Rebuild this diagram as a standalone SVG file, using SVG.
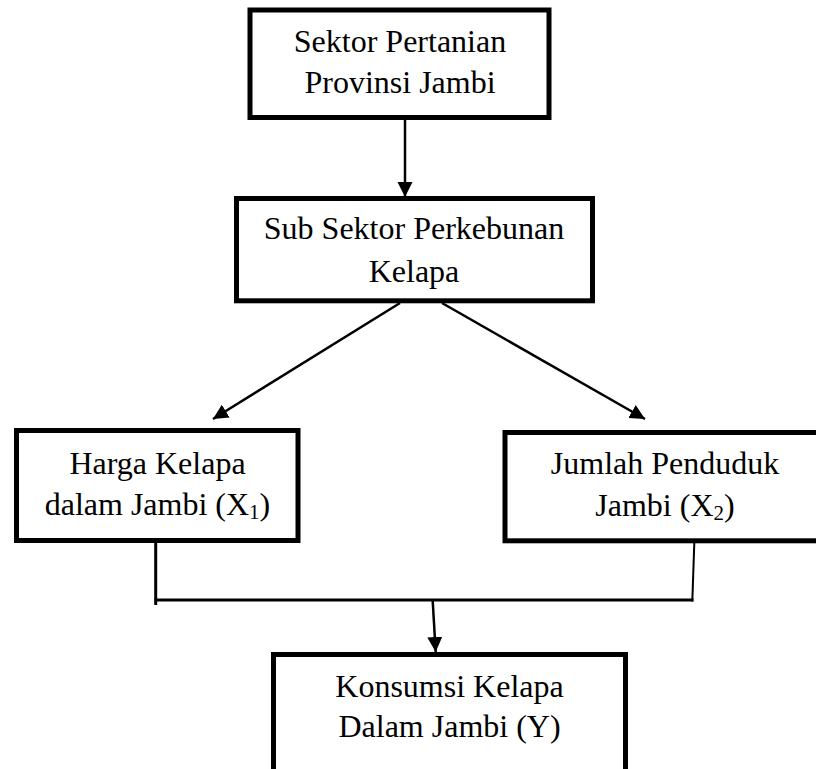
<svg xmlns="http://www.w3.org/2000/svg" width="816" height="769" viewBox="0 0 816 769">
  <defs>
    <marker id="arrow" markerUnits="userSpaceOnUse" markerWidth="16" markerHeight="16" refX="15" refY="7.5" orient="auto">
      <path d="M0,0 L15,7.5 L0,15 z" fill="#000"/>
    </marker>
    <style>
      .box { fill: #fff; stroke: #000; stroke-width: 5; }
      .lbl { font-family: "Liberation Serif", "Times New Roman", serif; font-size: 32px; fill: #000; text-anchor: middle; }
      .sub { font-size: 21px; }
      .conn { stroke: #000; fill: none; stroke-width: 2.5; }
      .arr { marker-end: url(#arrow); }
    </style>
  </defs>
  <rect x="0" y="0" width="816" height="769" fill="#fff"/>

  <g id="connectors">
    <line class="conn arr" x1="405" y1="120" x2="405" y2="197"/>
    <line class="conn arr" x1="400" y1="303" x2="213" y2="419"/>
    <line class="conn arr" x1="442" y1="303" x2="645" y2="419"/>
    <line class="conn" x1="155.7" y1="543" x2="155.7" y2="605" style="stroke-width:3"/>
    <line class="conn" x1="154.5" y1="600" x2="693.5" y2="600" style="stroke-width:3"/>
    <line class="conn" x1="694.3" y1="543" x2="692.3" y2="601.5" style="stroke-width:2"/>
    <line class="conn arr" x1="432.7" y1="601" x2="435.7" y2="652"/>
  </g>

  <g id="node-sektor">
    <rect class="box" x="250" y="10" width="299" height="107.5"/>
    <text class="lbl" x="400" y="52">Sektor Pertanian</text>
    <text class="lbl" x="400" y="93">Provinsi Jambi</text>
  </g>

  <g id="node-subsektor">
    <rect class="box" x="236.5" y="198.5" width="356" height="102.3"/>
    <text class="lbl" x="414" y="238.5">Sub Sektor Perkebunan</text>
    <text class="lbl" x="414" y="281.5">Kelapa</text>
  </g>

  <g id="node-harga">
    <rect class="box" x="16.5" y="430.5" width="281.5" height="110"/>
    <text class="lbl" x="157.5" y="474">Harga Kelapa</text>
    <text class="lbl" x="157.5" y="515">dalam Jambi (X<tspan class="sub" dy="4">1</tspan><tspan dy="-4">)</tspan></text>
  </g>

  <g id="node-jumlah">
    <rect class="box" x="505" y="432.5" width="320" height="108.3"/>
    <text class="lbl" x="665" y="474">Jumlah Penduduk</text>
    <text class="lbl" x="665" y="516">Jambi (X<tspan class="sub" dy="4">2</tspan><tspan dy="-4">)</tspan></text>
  </g>

  <g id="node-konsumsi">
    <rect class="box" x="273.5" y="654.5" width="352" height="130"/>
    <text class="lbl" x="449.5" y="697">Konsumsi Kelapa</text>
    <text class="lbl" x="449.5" y="737">Dalam Jambi (Y)</text>
  </g>
</svg>
